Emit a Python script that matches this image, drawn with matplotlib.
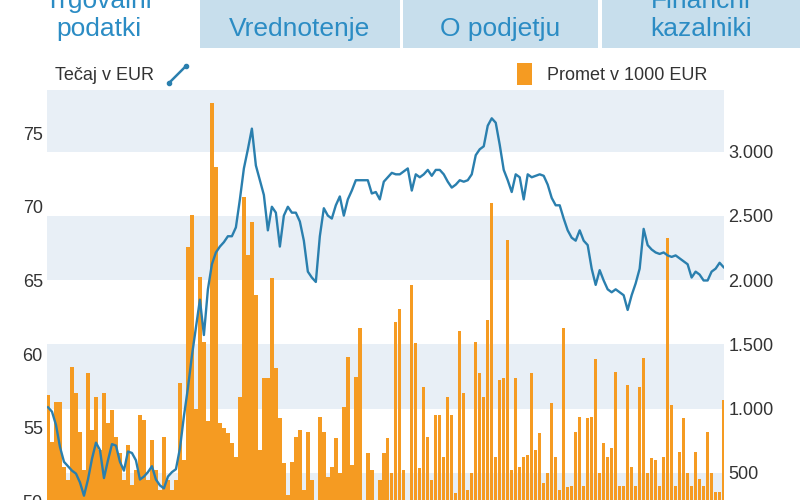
import matplotlib
matplotlib.use('Agg')
import matplotlib.pyplot as plt
from matplotlib.patches import Rectangle

plt.rcParams['font.family'] = ['Liberation Sans', 'DejaVu Sans']

# ---------------- data ----------------
tabs_line1 = ['Trgovalni', '', '', 'Finančni']
tabs_line2 = ['podatki', 'Vrednotenje', 'O podjetju', 'kazalniki']
price_label = 'Tečaj v EUR'
turnover_label = 'Promet v 1000 EUR'

price = [
    56.4, 56.1, 55.2, 53.7, 52.7, 52.4, 52.1, 51.9, 51.3, 50.4,
    51.5, 52.9, 54.0, 53.5, 51.6, 52.8, 53.9, 53.8, 52.7, 52.1,
    53.4, 53.3, 52.8, 51.5, 51.7, 52.0, 52.4, 51.5, 51.1, 50.9,
    51.7, 52.0, 52.2, 53.6, 55.8, 57.7, 59.9, 61.8, 63.7, 61.3,
    64.4, 66.1, 66.9, 67.3, 67.6, 68.0, 68.0, 68.6, 70.5, 72.6,
    73.9, 75.3, 72.8, 71.8, 70.8, 68.4, 70.0, 69.6, 67.3, 69.4,
    70.0, 69.6, 69.6, 69.0, 67.7, 65.6, 65.2, 64.9, 68.0, 69.9,
    69.4, 69.2, 70.1, 70.7, 69.4, 70.5, 71.1, 71.8, 71.8, 71.8,
    71.8, 70.9, 71.0, 70.5, 71.7, 72.0, 72.3, 72.2, 72.2, 72.4,
    72.6, 71.1, 72.2, 72.0, 72.2, 72.5, 72.1, 72.5, 72.5, 72.2,
    71.7, 71.3, 71.5, 71.8, 71.7, 71.8, 72.2, 73.5, 73.9, 74.1,
    75.5, 76.0, 75.7, 74.2, 72.5, 71.8, 71.0, 72.2, 72.0, 70.5,
    72.2, 72.0, 72.1, 72.2, 72.1, 71.5, 70.6, 70.1, 70.1, 69.2,
    68.4, 67.9, 67.7, 68.4, 67.7, 67.4, 65.8, 64.7, 65.7, 65.0,
    64.4, 64.2, 64.4, 64.2, 64.0, 63.0, 64.0, 64.8, 65.8, 68.5,
    67.4, 67.1, 66.9, 66.8, 66.9, 66.7, 66.6, 66.7, 66.5, 66.3,
    66.1, 65.2, 65.6, 65.4, 65.0, 65.0, 65.6, 65.8, 66.2, 65.9,
]

turnover = [
    1106, 740, 1052, 1052, 545, 444, 1324, 1122, 818, 520,
    1278, 834, 1091, 680, 1122, 888, 989, 779, 654, 444,
    717, 405, 522, 950, 911, 444, 756, 522, 366, 779,
    444, 366, 444, 1200, 600, 2259, 2508, 1000, 2025, 1519,
    900, 3381, 2883, 888, 850, 810, 732, 623, 1091, 2648,
    2197, 2454, 1885, 678, 1238, 1238, 2018, 1316, 927, 576,
    327, 584, 779, 834, 366, 818, 444, 288, 935, 818,
    467, 545, 771, 500, 1013, 1402, 560, 1246, 1628, 288,
    654, 522, 288, 444, 654, 771, 500, 1675, 1776, 522,
    288, 1963, 1511, 537, 1168, 779, 444, 950, 950, 623,
    1091, 950, 343, 1605, 1122, 366, 500, 1519, 1278, 1091,
    1690, 2601, 623, 1223, 1238, 2313, 522, 1238, 545, 623,
    638, 1278, 678, 810, 421, 500, 1044, 623, 366, 1628,
    390, 400, 818, 935, 400, 927, 935, 1386, 500, 732,
    623, 693, 1286, 400, 400, 1184, 545, 400, 1168, 1394,
    500, 615, 600, 400, 623, 2329, 1028, 400, 662, 927,
    500, 400, 662, 450, 400, 818, 498, 350, 350, 1067,
]

left_ticks = [50, 55, 60, 65, 70, 75]
right_ticks = [500, 1000, 1500, 2000, 2500, 3000]
right_tick_labels = ['500', '1.000', '1.500', '2.000', '2.500', '3.000']
band_spans = [(0, 500), (1000, 1500), (2000, 2500), (3000, 3600)]

# ---------------- styles ----------------
ORANGE = '#f59b22'
BLUE = '#2a7fae'
TAB_BG = '#c7deec'
TAB_TXT = '#2b8cc4'
BAND = '#e8eff6'
TXT = '#333333'

W, H = 800, 500
fig = plt.figure(figsize=(8, 5), dpi=100)
fig.patch.set_facecolor('white')


def rect(l, t, r, b):
    return [l / W, 1 - b / H, (r - l) / W, (b - t) / H]


# overlay for tabs and legend
ov = fig.add_axes([0, 0, 1, 1])
ov.set_xlim(0, W)
ov.set_ylim(H, 0)
ov.axis('off')

tab_x = [(0, 197), (200, 400), (403, 598), (602, 800)]
for k, (a, b) in enumerate(tab_x):
    fc = 'white' if k == 0 else TAB_BG
    ov.add_patch(Rectangle((a, 0), b - a, 48, fc=fc, ec='none'))
    cx = (a + b) / 2
    if tabs_line1[k]:
        ov.text(cx, 8, tabs_line1[k], ha='center', va='baseline',
                fontsize=19, color=TAB_TXT)
    ov.text(cx, 36, tabs_line2[k], ha='center', va='baseline',
            fontsize=19, color=TAB_TXT)

ov.text(55, 76, price_label, ha='left', va='center', fontsize=13, color=TXT)
ov.plot([169, 186], [83, 66], color=BLUE, lw=1.8, solid_capstyle='round')
ov.plot([169, 186], [83, 66], 'o', color=BLUE, ms=3)
ov.add_patch(Rectangle((517, 63), 15, 22, fc=ORANGE, ec='none'))
ov.text(547, 76, turnover_label, ha='left', va='center', fontsize=13, color=TXT)

# main plot
axb = fig.add_axes(rect(47, 90, 724, 537))
x = list(range(len(turnover)))
axb.set_xlim(-0.25, 169.1)
axb.set_ylim(0, 3481)
for lo, hi in band_spans:
    axb.axhspan(lo, hi, color=BAND, lw=0, zorder=0)
axb.bar(x, turnover, width=0.85, color=ORANGE, lw=0, zorder=2)

axl = axb.twinx()
axl.set_ylim(47.60, 77.92)
axl.plot(x, price, color=BLUE, lw=1.7, zorder=3, solid_joinstyle='round')

axb.yaxis.tick_right()
axl.yaxis.tick_left()
axb.set_yticks(right_ticks)
axb.set_yticklabels(right_tick_labels)
axl.set_yticks(left_ticks)
axl.set_yticklabels([str(t) for t in left_ticks])
axb.tick_params(axis='y', length=0, pad=3, labelsize=13, labelcolor=TXT,
                left=False, labelleft=False, right=False, labelright=True)
axl.tick_params(axis='y', length=0, pad=3, labelsize=13, labelcolor=TXT,
                left=False, labelleft=True, right=False, labelright=False)
for a in (axb, axl):
    a.set_xticks([])
    for s in a.spines.values():
        s.set_visible(False)
axl.patch.set_visible(False)

fig.savefig('out.png', dpi=100, facecolor='white')
